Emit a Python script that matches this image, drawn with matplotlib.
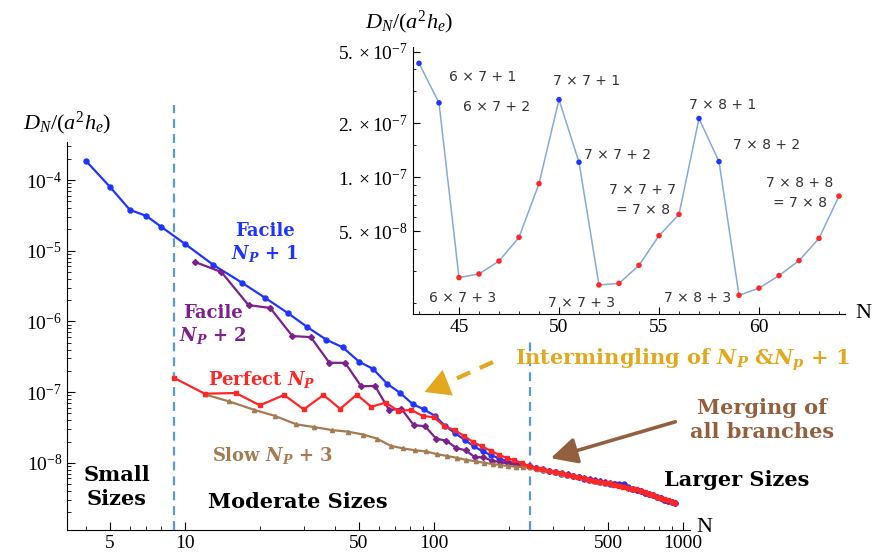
import matplotlib
matplotlib.use("Agg")
import matplotlib.pyplot as plt
from matplotlib.ticker import FixedLocator, NullFormatter, LogLocator
from matplotlib.patches import FancyArrowPatch
from matplotlib.lines import Line2D

# ---- data ----
# Facile N_P + 1 (blue)
N_blue = [4, 5, 6, 7, 8, 10, 13, 17, 21, 26,
          31, 37, 43, 50, 57, 65, 73, 82, 91, 101,
          111, 122, 133, 145, 157, 170, 183, 197, 211, 226,
          241, 257, 273, 290, 307, 325, 343, 362, 381, 401,
          421, 442, 463, 485, 507, 530, 553, 577, 601, 626,
          651, 677, 703, 730, 757, 785, 813, 842, 871, 901,
          931]
D_blue = [1.87e-4, 8.0e-5, 3.8e-5, 3.1e-5, 2.2e-5, 1.25e-5, 6.3e-6, 3.5e-6, 2.15e-6, 1.3e-6,
          8.3e-7, 5.5e-7, 4.3e-7, 2.7e-7, 2.12e-7, 1.3e-7, 9.8e-8, 6.8e-8, 5.7e-8, 4.6e-8,
          3.3e-8, 2.6e-8, 2.1e-8, 1.7e-8, 1.45e-8, 1.28e-8, 1.15e-8, 1.05e-8, 9.8e-9, 9.3e-9,
          8.9e-9, 8.4e-9, 8.0e-9, 7.6e-9, 7.3e-9, 7.0e-9, 6.7e-9, 6.45e-9, 6.2e-9, 5.95e-9,
          5.75e-9, 5.55e-9, 5.35e-9, 5.2e-9, 5.05e-9, 5.0e-9, 5.0e-9, 4.95e-9, 4.5e-9, 4.3e-9,
          4.15e-9, 3.95e-9, 3.75e-9, 3.6e-9, 3.45e-9, 3.3e-9, 3.15e-9, 3.0e-9, 2.9e-9, 2.8e-9,
          2.7e-9]

# Facile N_P + 2 (purple)
N_purple = [11, 14, 18, 22, 27, 32, 38, 44, 51, 58,
            66, 74, 83, 92, 102, 112, 123, 134, 146, 158,
            171, 184, 198, 212, 227, 242, 258, 274, 291, 308,
            326, 344, 363, 382, 402, 422, 443, 464, 486, 508,
            531, 554, 578, 602, 627, 652, 678, 704, 731, 758,
            786, 814, 843, 872, 902, 932]
D_purple = [6.9e-6, 5.0e-6, 1.7e-6, 1.55e-6, 6.2e-7, 6.0e-7, 2.6e-7, 2.59e-7, 1.21e-7, 1.22e-7,
            5.6e-8, 5.8e-8, 3.4e-8, 3.3e-8, 2.2e-8, 2.05e-8, 1.62e-8, 1.5e-8, 1.2e-8, 1.2e-8,
            1.07e-8, 1.03e-8, 9.8e-9, 9.5e-9, 9.2e-9, 8.9e-9, 8.5e-9, 8.1e-9, 7.75e-9, 7.45e-9,
            7.15e-9, 6.85e-9, 6.55e-9, 6.3e-9, 6.05e-9, 5.85e-9, 5.65e-9, 5.45e-9, 5.3e-9, 5.1e-9,
            4.95e-9, 4.85e-9, 4.75e-9, 4.45e-9, 4.3e-9, 4.15e-9, 3.95e-9, 3.75e-9, 3.6e-9, 3.45e-9,
            3.3e-9, 3.15e-9, 3.0e-9, 2.9e-9, 2.8e-9, 2.7e-9]

# Perfect N_P (red)
N_red = [9, 12, 16, 20, 25, 30, 36, 42, 49, 56,
         64, 72, 81, 90, 100, 110, 121, 132, 144, 156,
         169, 182, 196, 210, 225, 240, 256, 272, 289, 306,
         324, 342, 361, 380, 400, 420, 441, 462, 484, 506,
         529, 552, 576, 600, 625, 650, 676, 702, 729, 756,
         784, 812, 841, 870, 900, 930]
D_red = [1.6e-7, 9.5e-8, 9.7e-8, 6.5e-8, 9.1e-8, 5.7e-8, 9.1e-8, 5.8e-8, 9.2e-8, 6.2e-8,
         7.1e-8, 5.4e-8, 5.6e-8, 4.6e-8, 4.4e-8, 3.3e-8, 2.9e-8, 2.4e-8, 1.95e-8, 1.7e-8,
         1.48e-8, 1.3e-8, 1.17e-8, 1.08e-8, 1.0e-8, 9.0e-9, 8.5e-9, 8.1e-9, 7.7e-9, 7.4e-9,
         7.1e-9, 6.8e-9, 6.5e-9, 6.25e-9, 6.0e-9, 5.8e-9, 5.6e-9, 5.4e-9, 5.25e-9, 5.1e-9,
         4.9e-9, 4.75e-9, 4.6e-9, 4.4e-9, 4.3e-9, 4.2e-9, 4.0e-9, 3.8e-9, 3.65e-9, 3.5e-9,
         3.3e-9, 3.15e-9, 3.05e-9, 2.95e-9, 2.8e-9, 2.7e-9]

# Slow N_P + 3 (brown)
N_brown = [12, 15, 19, 23, 28, 33, 39, 45, 52, 59,
           67, 75, 84, 93, 103, 113, 124, 135, 147, 159,
           172, 185, 199, 213, 228, 243, 259, 275, 292, 309,
           327, 345, 364, 383, 403, 423, 444, 465, 487, 509]
D_brown = [9.3e-8, 7.4e-8, 5.6e-8, 4.6e-8, 3.5e-8, 3.2e-8, 2.9e-8, 2.76e-8, 2.51e-8, 2.2e-8,
           1.74e-8, 1.6e-8, 1.5e-8, 1.45e-8, 1.32e-8, 1.25e-8, 1.17e-8, 1.1e-8, 1.05e-8, 1.0e-8,
           9.6e-9, 9.3e-9, 9.0e-9, 8.8e-9, 8.7e-9, 8.6e-9, 8.3e-9, 7.95e-9, 7.6e-9, 7.3e-9,
           7.0e-9, 6.75e-9, 6.5e-9, 6.25e-9, 6.0e-9, 5.8e-9, 5.6e-9, 5.4e-9, 5.25e-9, 5.1e-9]

# inset: N = 43 ... 64
N_inset = [43, 44, 45, 46, 47, 48, 49, 50, 51, 52, 53,
           54, 55, 56, 57, 58, 59, 60, 61, 62, 63, 64]
D_inset = [4.3e-7, 2.59e-7, 2.76e-8, 2.89e-8, 3.41e-8, 4.62e-8, 9.2e-8, 2.7e-7, 1.21e-7, 2.51e-8, 2.56e-8,
           3.23e-8, 4.72e-8, 6.2e-8, 2.12e-7, 1.22e-7, 2.2e-8, 2.41e-8, 2.83e-8, 3.43e-8, 4.56e-8, 7.84e-8]
inset_facile = [43, 44, 50, 51, 57, 58]

inset_labels = ["6 × 7 + 1", "6 × 7 + 2", "6 × 7 + 3",
                "7 × 7 + 1", "7 × 7 + 2", "7 × 7 + 3", "7 × 7 + 7\n= 7 × 8",
                "7 × 8 + 1", "7 × 8 + 2", "7 × 8 + 3", "7 × 8 + 8\n= 7 × 8"]
inset_label_pos = [(46.2, 3.6e-7), (46.9, 2.45e-7), (45.2, 2.13e-8),
                   (51.4, 3.41e-7), (52.95, 1.32e-7), (51.15, 2.0e-8), (54.2, 7.45e-8),
                   (58.2, 2.51e-7), (60.4, 1.51e-7), (56.95, 2.13e-8), (62.05, 8.15e-8)]

x_ticks = [5, 10, 50, 100, 500, 1000]
y_ticks = [1e-8, 1e-7, 1e-6, 1e-5, 1e-4]
y_tick_labels = [r"$10^{-8}$", r"$10^{-7}$", r"$10^{-6}$", r"$10^{-5}$", r"$10^{-4}$"]
inset_xticks = [45, 50, 55, 60]
inset_yticks = [5e-8, 1e-7, 2e-7, 5e-7]
inset_ytick_labels = [r"$5.\times10^{-8}$", r"$1.\times10^{-7}$", r"$2.\times10^{-7}$", r"$5.\times10^{-7}$"]
region_bounds = [9, 243]

BLUE = "#1f35ff"
PURPLE = "#7d1f8c"
RED = "#ff2626"
BROWN = "#a57c52"
GOLD = "#e3a81d"
ARROW_BROWN = "#93603f"
DASH = "#5b9bd5"

plt.rcParams.update({
    "font.family": "Liberation Serif",
    "mathtext.fontset": "custom",
    "mathtext.rm": "Liberation Serif",
    "mathtext.it": "Liberation Serif:italic",
    "mathtext.bf": "DejaVu Serif:bold:italic",
})

W, H = 874, 559
fig = plt.figure(figsize=(W / 100, H / 100), dpi=100)


def fpos(px, py):
    return px / W, 1 - py / H


# ---- main axes ----
ax = fig.add_axes([67 / W, 1 - 530 / H, (690 - 67) / W, (530 - 142) / H])
ax.set_xscale("log")
ax.set_yscale("log")
ax.set_xlim(3.36, 1067)
ax.set_ylim(1.12e-9, 3.45e-4)

ax.plot(N_blue, D_blue, "-o", color=BLUE, lw=1.6, ms=3.6, zorder=3)
ax.plot(N_purple, D_purple, "-D", color=PURPLE, lw=1.6, ms=3.0, zorder=3)
ax.plot(N_brown, D_brown, "-^", color=BROWN, lw=1.6, ms=3.0, zorder=3)
ax.plot(N_red, D_red, "-s", color=RED, lw=1.6, ms=3.3, zorder=4)

# region separators
ax.plot([region_bounds[0]] * 2, [1.12e-9, 1.15e-3], ls=(0, (4, 2.7)), color=DASH, lw=1.6, clip_on=False, zorder=2)
ax.plot([region_bounds[1]] * 2, [1.12e-9, 5.5e-7], ls=(0, (4, 2.7)), color=DASH, lw=1.6, clip_on=False, zorder=2)

for s in ["top", "right"]:
    ax.spines[s].set_visible(False)
ax.xaxis.set_major_locator(FixedLocator(x_ticks))
ax.set_xticklabels([str(t) for t in x_ticks])
ax.xaxis.set_minor_locator(LogLocator(subs=range(2, 10), numticks=20))
ax.xaxis.set_minor_formatter(NullFormatter())
ax.yaxis.set_major_locator(FixedLocator(y_ticks))
ax.set_yticklabels(y_tick_labels)
ax.yaxis.set_minor_locator(LogLocator(subs=range(2, 10), numticks=20))
ax.yaxis.set_minor_formatter(NullFormatter())
ax.tick_params(which="both", direction="in", labelsize=14)
ax.tick_params(which="major", length=6)
ax.tick_params(which="minor", length=3)

fig.text(*fpos(67, 123), r"$D_N/(a^2h_e)$", ha="center", va="center", fontsize=16)
fig.text(*fpos(704, 527), "N", ha="center", va="center", fontsize=16)

# ---- inset ----
ins = fig.add_axes([413 / W, 1 - 314 / H, (845 - 413) / W, (314 - 47) / H])
ins.set_yscale("log")
ins.set_xlim(42.7, 64.3)
ins.set_ylim(1.73e-8, 5.3e-7)
ins.patch.set_alpha(0)
ins.plot(N_inset, D_inset, "-", color="#86a9d8", lw=1.1, zorder=2)
cols = [BLUE if n in inset_facile else RED for n in N_inset]
ins.scatter(N_inset, D_inset, s=16, c=cols, zorder=3, linewidths=0)
for s in ["top", "right"]:
    ins.spines[s].set_visible(False)
ins.xaxis.set_major_locator(FixedLocator(inset_xticks))
ins.xaxis.set_minor_locator(FixedLocator(N_inset))
ins.yaxis.set_major_locator(FixedLocator(inset_yticks))
ins.set_yticklabels(inset_ytick_labels)
ins.yaxis.set_minor_locator(FixedLocator([2e-8, 3e-8, 4e-8, 6e-8, 7e-8, 8e-8, 9e-8, 1.5e-7, 3e-7, 4e-7]))
ins.yaxis.set_minor_formatter(NullFormatter())
ins.tick_params(which="both", direction="in", labelsize=14)
ins.tick_params(which="major", length=5)
ins.tick_params(which="minor", length=2.5)
for txt, (xx, yy) in zip(inset_labels, inset_label_pos):
    ins.text(xx, yy, txt, ha="center", va="center", fontsize=10, family="DejaVu Sans",
             color="#333333", linespacing=1.5)
fig.text(*fpos(409, 22), r"$D_N/(a^2h_e)$", ha="center", va="center", fontsize=16)
fig.text(*fpos(863, 313), "N", ha="center", va="center", fontsize=16)

# ---- annotations ----
bold = dict(family="DejaVu Serif", fontweight="bold", ha="center", va="center")
fig.text(*fpos(117, 487), "Small\nSizes", fontsize=15, linespacing=1.25, **bold)
fig.text(*fpos(298, 502), "Moderate Sizes", fontsize=15, **bold)
fig.text(*fpos(737, 480), "Larger Sizes", fontsize=15, **bold)
fig.text(*fpos(265, 243), "Facile\n$\\mathbf{N_P}$ + 1", color=BLUE, fontsize=13, linespacing=1.2, **bold)
fig.text(*fpos(213, 325), "Facile\n$\\mathbf{N_P}$ + 2", color=PURPLE, fontsize=13, linespacing=1.2, **bold)
fig.text(*fpos(262, 380), "Perfect $\\mathbf{N_P}$", color=RED, fontsize=13, **bold)
fig.text(*fpos(273, 456), "Slow $\\mathbf{N_P}$ + 3", color=BROWN, fontsize=13, **bold)
fig.text(*fpos(683, 360), "Intermingling of $\\mathbf{N_P}$ &$\\mathbf{N_p}$ + 1", color=GOLD, fontsize=15, **bold)
fig.text(*fpos(762, 420), "Merging of\nall branches", color=ARROW_BROWN, fontsize=15, linespacing=1.3, **bold)

# gold dashed arrow
fig.add_artist(Line2D([fpos(493, 362)[0], fpos(440, 386)[0]], [fpos(493, 362)[1], fpos(440, 386)[1]],
                      transform=fig.transFigure, color=GOLD, lw=3, ls=(0, (3.5, 2.5))))
fig.add_artist(FancyArrowPatch(fpos(442, 385), fpos(422, 393), transform=fig.transFigure,
                               arrowstyle="-|>,head_length=0.9,head_width=0.5", mutation_scale=20,
                               color=GOLD, lw=0))
# brown arrow
fig.add_artist(FancyArrowPatch(fpos(678, 421), fpos(548, 459), transform=fig.transFigure,
                               arrowstyle="-|>,head_length=0.8,head_width=0.4", mutation_scale=20,
                               color=ARROW_BROWN, lw=2.6))

fig.savefig("out.png", dpi=100)
